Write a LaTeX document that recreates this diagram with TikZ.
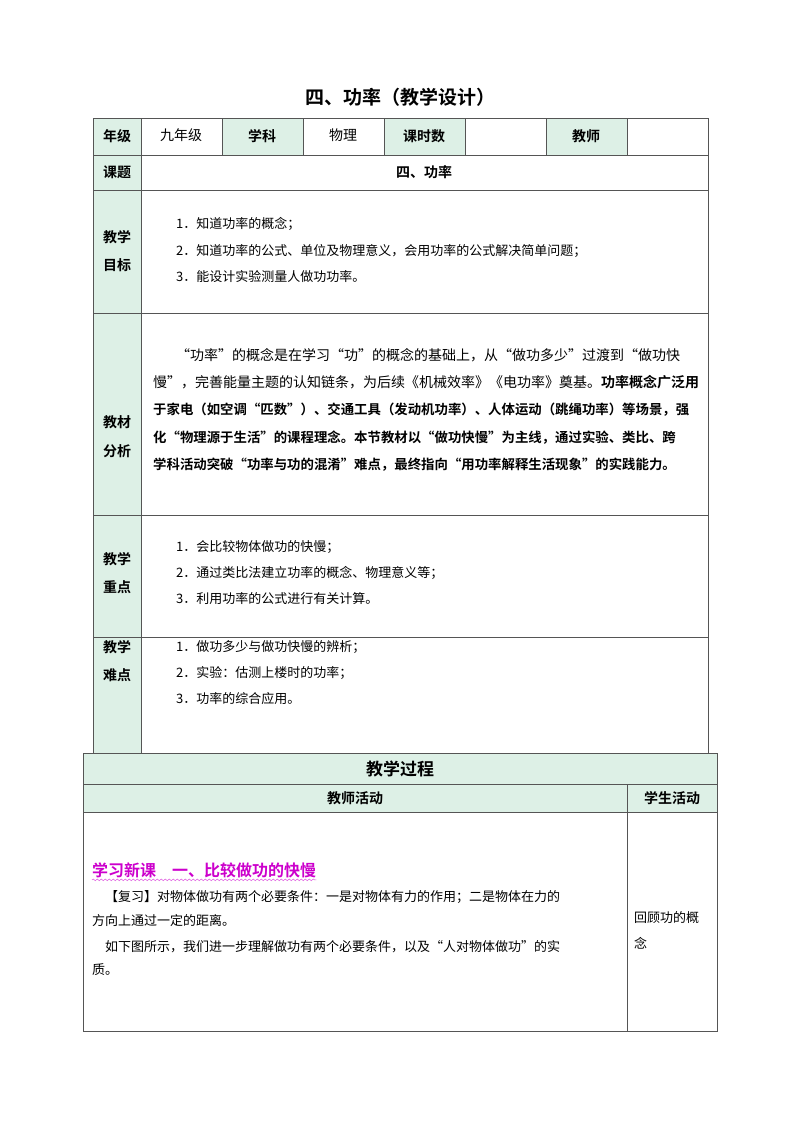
\documentclass[tikz,border=0pt]{standalone}
\usepackage{fontspec}
\setmainfont{Noto Sans CJK SC}[BoldFont={Noto Sans CJK SC Bold}]
\usetikzlibrary{decorations.pathmorphing}
\definecolor{hdr}{HTML}{DDF0E6}
\definecolor{grid}{HTML}{555555}
\definecolor{mag}{HTML}{CC00CC}
\begin{document}
\begin{tikzpicture}[x=1pt,y=-1pt,
  cellh/.style={font=\fontsize{14}{16}\selectfont\bfseries},
  body/.style={anchor=west,inner sep=0,font=\fontsize{13}{15}\selectfont},
  ana/.style={anchor=west,inner sep=0,font=\fontsize{14}{16}\selectfont},
  anab/.style={anchor=west,inner sep=0,font=\fontsize{13.4}{16}\selectfont\bfseries},
  ln/.style={draw=grid,line width=0.9pt}]
\useasboundingbox (0,0) rectangle (800,1132);
\node[font=\fontsize{19}{22}\selectfont\bfseries] (title) at (400,97) {四、功率（教学设计）};
\fill[hdr] (93,118) rectangle (141,753);
\fill[hdr] (222,118) rectangle (303,155);
\fill[hdr] (384,118) rectangle (465,155);
\fill[hdr] (546,118) rectangle (627,155);
\draw[ln] (93,118) rectangle (708,753);
\foreach \y in {155,190,313,515,637} \draw[ln] (93,\y) -- (708,\y);
\draw[ln] (141,118) -- (141,753);
\foreach \x in {222,303,384,465,546,627} \draw[ln] (\x,118) -- (\x,155);
\node[cellh] (h1) at (117,136) {年级};
\node[font=\fontsize{14}{16}\selectfont] (h2) at (181,135) {九年级};
\node[cellh] (h3) at (262,136) {学科};
\node[font=\fontsize{14}{16}\selectfont] (h4) at (343,135) {物理};
\node[cellh] (h5) at (424,136) {课时数};
\node[cellh] (h6) at (586,136) {教师};
\node[cellh] (k1) at (117,172) {课题};
\node[cellh] (k2) at (424,172) {四、功率};
\node[cellh] (m1) at (117,237) {教学};
\node[cellh] (m2) at (117,265) {目标};
\node[cellh] (a1) at (117,422) {教材};
\node[cellh] (a2) at (117,451) {分析};
\node[cellh] (z1) at (117,559) {教学};
\node[cellh] (z2) at (117,587) {重点};
\node[cellh] (n1) at (117,647) {教学};
\node[cellh] (n2) at (117,675) {难点};
\node[body] (o1) at (176,224) {1．知道功率的概念；};
\node[body] (o2) at (176,251) {2．知道功率的公式、单位及物理意义，会用功率的公式解决简单问题；};
\node[body] (o3) at (176,277) {3．能设计实验测量人做功功率。};
\node[ana] (t1) at (176,355) {“功率”的概念是在学习“功”的概念的基础上，从“做功多少”过渡到“做功快};
\node[ana] (t2) at (153,382) {慢”，完善能量主题的认知链条，为后续《机械效率》《电功率》奠基。\textbf{功率概念广泛用}};
\node[anab] (t3) at (153,410) {于家电（如空调“匹数”）、交通工具（发动机功率）、人体运动（跳绳功率）等场景，强};
\node[anab] (t4) at (153,438) {化“物理源于生活”的课程理念。本节教材以“做功快慢”为主线，通过实验、类比、跨};
\node[anab] (t5) at (153,465) {学科活动突破“功率与功的混淆”难点，最终指向“用功率解释生活现象”的实践能力。};
\node[body] (p1) at (176,547) {1．会比较物体做功的快慢；};
\node[body] (p2) at (176,573) {2．通过类比法建立功率的概念、物理意义等；};
\node[body] (p3) at (176,599) {3．利用功率的公式进行有关计算。};
\node[body] (d1) at (176,647) {1．做功多少与做功快慢的辨析；};
\node[body] (d2) at (176,673) {2．实验：估测上楼时的功率；};
\node[body] (d3) at (176,699) {3．功率的综合应用。};
\fill[hdr] (83,753) rectangle (717,812);
\draw[ln] (83,753) rectangle (717,1031);
\draw[ln] (83,784) -- (717,784);
\draw[ln] (83,812) -- (717,812);
\draw[ln] (627,784) -- (627,1031);
\node[font=\fontsize{17}{20}\selectfont\bfseries] (g1) at (400,769) {教学过程};
\node[cellh] (g2) at (355,798) {教师活动};
\node[cellh] (g3) at (672,798) {学生活动};
\node[anchor=west,inner sep=0,font=\fontsize{16}{18}\selectfont\bfseries,text=mag] (sec) at (92,870) {学习新课\hspace{1em}一、比较做功的快慢};
\draw[mag!60,line width=0.6pt,decorate,decoration={snake,amplitude=0.8pt,segment length=4pt}] (sec.south west)++(0,2) -- ([yshift=-2pt]sec.south east);
\node[body] (r1) at (105,897) {【复习】对物体做功有两个必要条件：一是对物体有力的作用；二是物体在力的};
\node[body] (r2) at (92,921) {方向上通过一定的距离。};
\node[body] (r3) at (105,947) {如下图所示，我们进一步理解做功有两个必要条件，以及“人对物体做功”的实};
\node[body] (r4) at (92,970) {质。};
\node[body] (s1) at (634,918) {回顾功的概};
\node[body] (s2) at (634,943) {念};
\end{tikzpicture}
\end{document}
